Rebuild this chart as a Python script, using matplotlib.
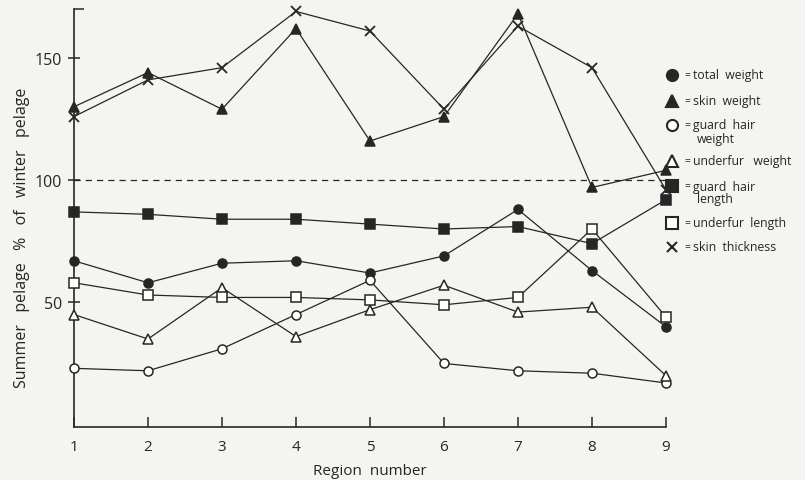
import matplotlib.pyplot as plt
from matplotlib.lines import Line2D

plt.rcParams['font.family'] = ['Open Sans', 'DejaVu Sans']

# Region numbers and the seven series (% of winter pelage)
regions = [1, 2, 3, 4, 5, 6, 7, 8, 9]
total_weight = [67, 58, 66, 67, 62, 69, 88, 63, 40]
skin_weight = [130, 144, 129, 162, 116, 126, 168, 97, 104]
guard_hair_weight = [23, 22, 31, 45, 59, 25, 22, 21, 17]
underfur_weight = [45, 35, 56, 36, 47, 57, 46, 48, 20]
guard_hair_length = [87, 86, 84, 84, 82, 80, 81, 74, 92]
underfur_length = [58, 53, 52, 52, 51, 49, 52, 80, 44]
skin_thickness = [126, 141, 146, 169, 161, 129, 163, 146, 96]

ink = '#262626'
bg = '#f4f4f0'

fig = plt.figure(figsize=(8.05, 4.81), dpi=100, facecolor=bg)
ax = fig.add_axes([0.0919, 0.1102, 0.7354, 0.869], facecolor=bg)

series = [
    (total_weight, 'o', ink),
    (skin_weight, '^', ink),
    (guard_hair_weight, 'o', 'white'),
    (underfur_weight, '^', 'white'),
    (guard_hair_length, 's', ink),
    (underfur_length, 's', 'white'),
]
for vals, mk, fc in series:
    ax.plot(regions, vals, color=ink, lw=0.9, marker=mk, ms=6.5,
            mfc=fc, mec=ink, mew=1.1, clip_on=False, zorder=3)
ax.plot(regions, skin_thickness, color=ink, lw=0.9, marker='x', ms=7,
        mec=ink, mew=1.3, clip_on=False, zorder=3)

ax.axhline(100, color=ink, lw=0.9, ls=(0, (5, 4)), zorder=2)

ax.set_xlim(1, 9)
ax.set_ylim(-1, 170)
ax.set_xticks(regions)
ax.set_yticks([50, 100, 150])
ax.set_yticks([170], minor=True)
for s in ['top', 'right']:
    ax.spines[s].set_visible(False)
for s in ['left', 'bottom']:
    ax.spines[s].set_color(ink)
    ax.spines[s].set_linewidth(1.2)
ax.tick_params(axis='x', direction='in', length=7, width=1.1, color=ink,
               labelsize=11, labelcolor=ink, pad=9)
ax.tick_params(axis='y', direction='inout', length=9, width=1.1, color=ink,
               labelsize=11.5, labelcolor=ink, pad=4)
ax.tick_params(axis='y', which='minor', direction='in', length=7, width=1.1, color=ink)
ax.set_xlabel('Region  number', fontsize=11, color=ink, labelpad=6)

W, H = 805, 481
fig.text(22 / W, 1 - 238 / H, 'Summer   pelage   %   of   winter   pelage',
         rotation=90, fontsize=11.5, color=ink, ha='center', va='center')

# hand-made key on the right
key_markers = ['o', '^', 'o', '^', 's', 's', 'x']
key_fills = [ink, ink, 'white', 'white', ink, 'white', ink]
key_first = ['total  weight', 'skin  weight', 'guard  hair', 'underfur   weight',
             'guard  hair', 'underfur  length', 'skin  thickness']
key_second = ['', '', 'weight', '', 'length', '', '']
key_y = [76, 102, 126, 162, 187, 224, 248]

for mk, fc, t1, t2, py in zip(key_markers, key_fills, key_first, key_second, key_y):
    fig.add_artist(Line2D([672 / W], [1 - py / H], transform=fig.transFigure,
                          marker=mk, ms=8 if mk != 'x' else 7, mfc=fc, mec=ink,
                          mew=1.5, ls='none'))
    fig.text(684 / W, 1 - py / H, '=', fontsize=7.5, color=ink, va='center', ha='left')
    fig.text(693 / W, 1 - py / H, t1, fontsize=8.8, color=ink, va='center', ha='left')
    if t2:
        fig.text(697 / W, 1 - (py + 13) / H, t2, fontsize=8.8, color=ink,
                 va='center', ha='left')

fig.savefig('out.png', dpi=100, facecolor=bg)
